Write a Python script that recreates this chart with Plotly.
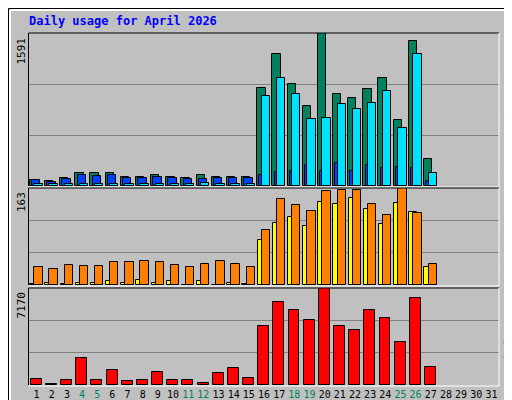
import plotly.graph_objects as go

days = list(range(1, 32))
weekend = [4, 5, 11, 12, 18, 19, 25, 26]
hits = [64,54,79,132,132,132,90,97,118,97,79,118,97,97,90,1020,1375,1063,827,1591,956,913,1010,1128,687,1504,279]
files = [64,43,75,118,107,118,86,86,97,86,75,75,86,86,86,118,150,161,215,161,236,161,215,183,193,183,54]
pages = [18,18,18,18,18,18,18,18,18,18,18,36,18,18,18,934,1128,956,698,709,848,805,859,988,601,1375,140]
sites = [2,4,2,4,4,6,4,8,4,6,0,6,0,4,2,76,105,115,99,140,136,147,128,103,138,122,31]
visits = [31,27,34,32,32,39,38,41,38,34,31,36,41,36,31,92,145,135,124,158,159,159,136,117,163,121,36]
kbytes = [419,105,340,1990,340,1127,262,340,970,340,340,183,890,1283,497,4343,6155,5522,4814,7170,4343,4029,5522,4972,3169,6467,1362]
max_hits, max_visits, max_kb = 1591, 163, 7170

C_HITS, C_FILES, C_PAGES = "#00805C", "#0040FF", "#00E0FF"
C_SITES, C_VISITS, C_KB = "#FFFF00", "#FF8000", "#FF0000"
BG = "#C0C0C0"
FONT = "DejaVu Sans Mono"
W, H = 512, 400
d = days[:len(hits)]

def bar(y, color, off, wid, xa, ya):
    return go.Bar(x=d, y=y, offset=off, width=wid, marker=dict(color=color, line=dict(color="black", width=1)),
                  xaxis=xa, yaxis=ya, showlegend=False, hoverinfo="skip")

fig = go.Figure()
fig.add_trace(bar(hits, C_HITS, -0.45, 0.55, "x", "y"))
fig.add_trace(bar(files, C_FILES, -0.3, 0.55, "x", "y"))
fig.add_trace(bar(pages, C_PAGES, -0.15, 0.55, "x", "y"))
fig.add_trace(bar(sites, C_SITES, -0.42, 0.5, "x2", "y2"))
fig.add_trace(bar(visits, C_VISITS, -0.15, 0.55, "x2", "y2"))
fig.add_trace(bar(kbytes, C_KB, -0.38, 0.72, "x3", "y3"))

px = lambda v: v / W
py = lambda v: 1 - v / H
xd = [px(21), px(491)]
ticktext = [f'<span style="color:{C_HITS if dd in weekend else "black"}">{dd}</span>' for dd in days]
xcommon = dict(range=[0.5, 31.5], domain=xd, showgrid=False, zeroline=False, fixedrange=True)
fig.update_layout(
    width=W, height=H, margin=dict(l=0, r=0, t=0, b=0),
    paper_bgcolor=BG, plot_bgcolor=BG, barmode="overlay", bargap=0,
    font=dict(family=FONT, size=11, color="black"),
    xaxis=dict(**xcommon, anchor="y", showticklabels=False),
    xaxis2=dict(**xcommon, anchor="y2", showticklabels=False),
    xaxis3=dict(**xcommon, anchor="y3", tickmode="array", tickvals=days, ticktext=ticktext,
                ticks="", tickangle=0, automargin=False, ticklabelstandoff=2,
                tickfont=dict(size=10, family=FONT)),
)
def yax(mx, top, bot):
    return dict(range=[0, mx], domain=[py(bot), py(top)], tickvals=[mx/3, 2*mx/3], showticklabels=False,
                showgrid=True, gridcolor="#808080", gridwidth=1, zeroline=False, fixedrange=True)
fig.update_layout(yaxis=dict(**yax(max_hits, 25, 178), anchor="x"),
                  yaxis2=dict(**yax(max_visits, 180, 277), anchor="x2"),
                  yaxis3=dict(**yax(max_kb, 280, 377), anchor="x3"))

shapes = []
def line(x0, y0, x1, y1, c, w=1):
    shapes.append(dict(type="line", xref="paper", yref="paper", x0=px(x0), y0=py(y0), x1=px(x1), y1=py(y1),
                       line=dict(color=c, width=w)))
line(0.5, 0.5, 511.5, 0.5, "black"); line(0.5, 0.5, 0.5, 399.5, "black")
line(511.5, 0, 511.5, 400, "black"); line(0, 399.5, 512, 399.5, "black")
line(2, 2, 509, 2, "white", 2); line(2, 2, 2, 397, "white", 2)
line(509, 3, 509, 397, "#808080", 2); line(3, 397, 509, 397, "#808080", 2)
for top, bot in [(25, 178), (180, 277), (280, 377)]:
    line(20.5, top, 491, top, "black"); line(20.5, top, 20.5, bot, "black")
    line(491, top, 491, bot + 1, "white"); line(20.5, bot + 1, 491, bot + 1, "white")
fig.update_layout(shapes=shapes)

ann = []
def text(x, y, t, color="black", size=11, angle=0, xa="left", ya="top", bold=False):
    ann.append(dict(x=px(x), y=py(y), xref="paper", yref="paper", text=f"<b>{t}</b>" if bold else t,
                    showarrow=False, textangle=angle, xanchor=xa, yanchor=ya,
                    font=dict(family=FONT, size=size, color=color)))
text(19, 4, "Daily usage for April 2026", "#0000FF", 12, bold=True)
text(13, 28, str(max_hits), angle=-90, xa="center", ya="top")
text(13, 182, str(max_visits), angle=-90, xa="center", ya="top")
text(13, 282, str(max_kb), angle=-90, xa="center", ya="top")
text(500, 98, f'<span style="color:{C_PAGES}">Pages</span> / <span style="color:{C_FILES}">Files</span> / <span style="color:{C_HITS}">Hits</span>',
     angle=-90, xa="center", ya="middle")
text(500, 221, f'<span style="color:{C_VISITS}">Sites</span> / <span style="color:{C_SITES}">Visits</span>',
     angle=-90, xa="center", ya="middle")
text(500, 345, "kB F", C_KB, angle=-90, xa="center", ya="middle")
fig.update_layout(annotations=ann)

fig.write_html("out.html", config={"displayModeBar": False})
